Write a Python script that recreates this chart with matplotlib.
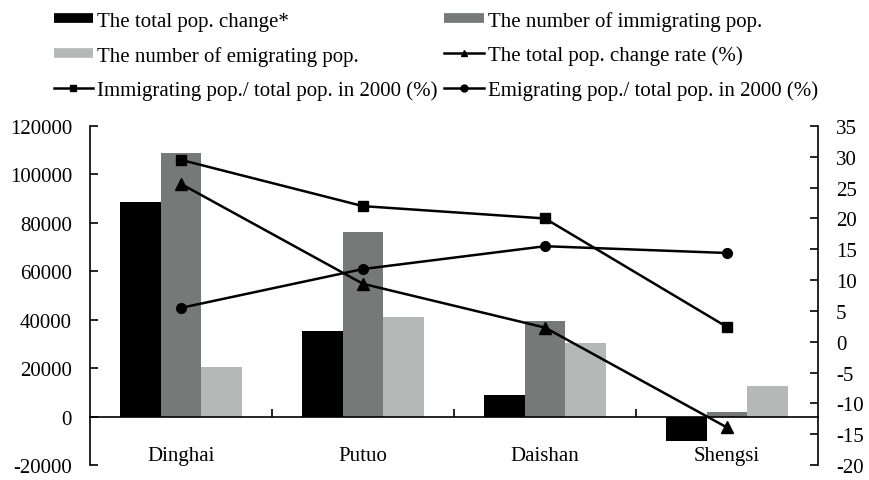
import numpy as np
import matplotlib
matplotlib.use("Agg")
import matplotlib.pyplot as plt
from matplotlib.lines import Line2D
from matplotlib.ticker import MultipleLocator

plt.rcParams['font.family'] = ['Liberation Serif', 'DejaVu Serif']
plt.rcParams['axes.unicode_minus'] = False

counties = ["Dinghai", "Putuo", "Daishan", "Shengsi"]
total_change = [88600, 35400, 8900, -10200]
immigrating = [108900, 76400, 39400, 2000]
emigrating = [20300, 41000, 30500, 12600]

change_rate = [25.6, 9.4, 2.3, -13.9]
immig_ratio = [29.5, 22.0, 20.0, 2.4]
emig_ratio = [5.5, 11.8, 15.5, 14.4]

c_black = "#000000"
c_dark = "#777979"
c_light = "#b6b8b8"

fig = plt.figure(figsize=(8.69, 4.81), dpi=100)
ax = fig.add_axes([0.1036, 0.031, 0.8377, 0.705])
x = np.arange(len(counties)) + 0.5
w = 0.222

ax.bar(x - w, total_change, w, color=c_black)
ax.bar(x, immigrating, w, color=c_dark)
ax.bar(x + w, emigrating, w, color=c_light)

ax.set_xlim(0, 4)
ax.set_ylim(-20000, 120000)
ax.yaxis.set_major_locator(MultipleLocator(20000))
ax.spines['top'].set_visible(False)
ax.spines['right'].set_visible(False)
ax.spines['bottom'].set_position(('data', 0))
for s in ax.spines.values():
    s.set_linewidth(1.2)
ax.set_xticks(x)
ax.set_xticklabels(counties)
ax.set_xticks([1, 2, 3], minor=True)
ax.tick_params(axis='x', which='major', length=0, pad=21, labelsize=15)
ax.tick_params(axis='x', which='minor', direction='in', length=6, width=1.2)
ax.tick_params(axis='y', direction='in', length=6, width=1.2, labelsize=15, pad=13)

ax2 = ax.twinx()
ax2.set_ylim(-20, 35)
ax2.yaxis.set_major_locator(MultipleLocator(5))
for side in ['top', 'left', 'bottom']:
    ax2.spines[side].set_visible(False)
ax2.spines['right'].set_linewidth(1.2)
ax2.tick_params(axis='y', direction='in', length=6, width=1.2, labelsize=15, pad=13)

ax2.plot(x, change_rate, color='black', lw=1.8, marker='^', ms=8)
ax2.plot(x, immig_ratio, color='black', lw=1.8, marker='s', ms=7)
ax2.plot(x, emig_ratio, color='black', lw=1.8, marker='o', ms=7)

h_total = Line2D([], [], color=c_black, lw=7, solid_capstyle='butt')
h_immig = Line2D([], [], color=c_dark, lw=7, solid_capstyle='butt')
h_emig = Line2D([], [], color=c_light, lw=7, solid_capstyle='butt')
h_rate = Line2D([], [], color='black', lw=1.8, marker='^', ms=5)
h_iratio = Line2D([], [], color='black', lw=1.8, marker='s', ms=5)
h_eratio = Line2D([], [], color='black', lw=1.8, marker='o', ms=5)

handles = [h_total, h_emig, h_iratio, h_immig, h_rate, h_eratio]
labels = ["The total pop. change*", "The number of emigrating pop.",
          "Immigrating pop./ total pop. in 2000 (%)",
          "The number of immigrating pop.", "The total pop. change rate (%)",
          "Emigrating pop./ total pop. in 2000 (%)"]
fig.legend(handles, labels, loc='upper left', bbox_to_anchor=(0.052, 0.993),
           ncol=2, frameon=False, fontsize=15, handlelength=1.9,
           handletextpad=0.2, columnspacing=0.3, labelspacing=0.72,
           borderaxespad=0)

fig.savefig("out.png", dpi=100)
